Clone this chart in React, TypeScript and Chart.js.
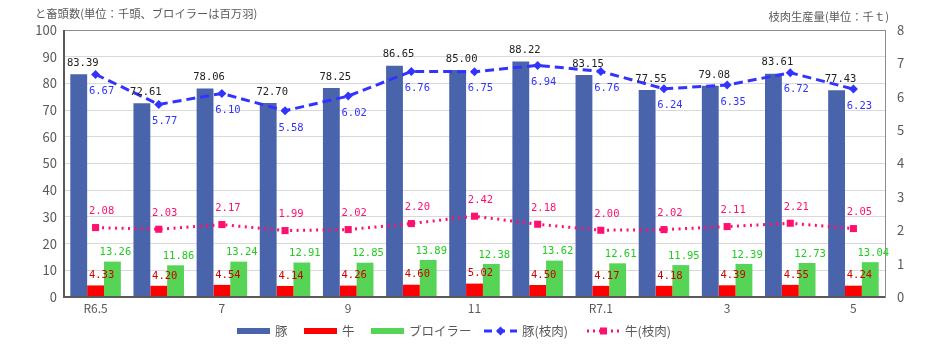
import React, { useEffect, useRef } from "react";
import { Chart, registerables } from "chart.js";

Chart.register(...registerables);

const months = ["R6.5", "6", "7", "8", "9", "10", "11", "12", "R7.1", "2", "3", "4", "5"];
const xTickLabels = ["R6.5", "", "7", "", "9", "", "11", "", "R7.1", "", "3", "", "5"];
const pigHead = [83.39, 72.61, 78.06, 72.7, 78.25, 86.65, 85.0, 88.22, 83.15, 77.55, 79.08, 83.61, 77.43];
const cattleHead = [4.33, 4.2, 4.54, 4.14, 4.26, 4.6, 5.02, 4.5, 4.17, 4.18, 4.39, 4.55, 4.24];
const broilerHead = [13.26, 11.86, 13.24, 12.91, 12.85, 13.89, 12.38, 13.62, 12.61, 11.95, 12.39, 12.73, 13.04];
const pigMeat = [6.67, 5.77, 6.1, 5.58, 6.02, 6.76, 6.75, 6.94, 6.76, 6.24, 6.35, 6.72, 6.23];
const cattleMeat = [2.08, 2.03, 2.17, 1.99, 2.02, 2.2, 2.42, 2.18, 2.0, 2.02, 2.11, 2.21, 2.05];
const leftTitle = "と畜頭数(単位：千頭、ブロイラーは百万羽)";
const rightTitle = "枝肉生産量(単位：千ｔ)";
const legendNames = ["豚", "牛", "ブロイラー", "豚(枝肉)", "牛(枝肉)"];

const PIG = "#4A64AC";
const RED = "#FF0000";
const GREEN = "#55D455";
const BLUE = "#3333FF";
const PINK = "#FF0F6E";
const TXT = "#595959";
const JP = '"Noto Sans CJK JP", sans-serif';
const NUM = '"DejaVu Sans Mono", monospace';

const labelCfg = [
  { color: "#222222", dx: 4, dy: -11 },
  { color: "#D00000", dx: 6, dy: -10 },
  { color: "#22CC22", dx: 3, dy: -9 },
  { color: BLUE, dx: 6, dy: 17 },
  { color: PINK, dx: 6, dy: -16 },
];

const legendX = [237, 304, 371, 484, 587];

const overlay = {
  id: "overlay",
  afterDatasetsDraw(chart: any) {
    const ctx = chart.ctx;
    const a = chart.chartArea;
    ctx.save();
    // frame
    ctx.strokeStyle = "#8c8c8c";
    ctx.lineWidth = 1;
    ctx.strokeRect(Math.round(a.left) + 0.5, Math.round(a.top) + 0.5, Math.round(a.right - a.left), Math.round(a.bottom - a.top));
    ctx.strokeStyle = "#595959";
    ctx.lineWidth = 2;
    ctx.beginPath();
    ctx.moveTo(a.left, a.top);
    ctx.lineTo(a.left, a.bottom);
    ctx.lineTo(a.right, a.bottom);
    ctx.stroke();

    // data labels
    ctx.font = `10.5px ${NUM}`;
    ctx.textAlign = "center";
    ctx.textBaseline = "middle";
    chart.data.datasets.forEach((ds: any, di: number) => {
      const meta = chart.getDatasetMeta(di);
      const cfg = labelCfg[di];
      ctx.fillStyle = cfg.color;
      meta.data.forEach((el: any, i: number) => {
        const v = ds.data[i] as number;
        ctx.fillText(v.toFixed(2), el.x + cfg.dx, el.y + cfg.dy);
      });
    });

    // titles
    ctx.fillStyle = TXT;
    ctx.font = `11.3px ${JP}`;
    ctx.textBaseline = "middle";
    ctx.textAlign = "left";
    ctx.fillText(leftTitle, 35, 14);
    ctx.textAlign = "right";
    ctx.fillText(rightTitle, 889, 17);

    // legend
    const y = 331;
    ctx.font = `12.5px ${JP}`;
    ctx.textAlign = "left";
    legendNames.forEach((name, i) => {
      const x = legendX[i];
      const w = 33;
      if (i < 3) {
        ctx.fillStyle = [PIG, RED, GREEN][i];
        ctx.fillRect(x, y - 3, w, 6);
      } else if (i === 3) {
        ctx.strokeStyle = BLUE;
        ctx.lineWidth = 3;
        ctx.setLineDash([8, 5]);
        ctx.beginPath();
        ctx.moveTo(x, y);
        ctx.lineTo(x + w, y);
        ctx.stroke();
        ctx.setLineDash([]);
        ctx.fillStyle = BLUE;
        ctx.beginPath();
        const cx = x + w / 2;
        ctx.moveTo(cx, y - 4.5);
        ctx.lineTo(cx + 4.5, y);
        ctx.lineTo(cx, y + 4.5);
        ctx.lineTo(cx - 4.5, y);
        ctx.closePath();
        ctx.fill();
      } else {
        ctx.strokeStyle = PINK;
        ctx.lineWidth = 3;
        ctx.setLineDash([2, 4]);
        ctx.beginPath();
        ctx.moveTo(x, y);
        ctx.lineTo(x + w, y);
        ctx.stroke();
        ctx.setLineDash([]);
        ctx.fillStyle = PINK;
        ctx.fillRect(x + w / 2 - 3.5, y - 3.5, 7, 7);
      }
      ctx.fillStyle = TXT;
      ctx.fillText(name, x + w + 5, y);
    });
    ctx.restore();
  },
};

export default function App() {
  const ref = useRef<HTMLCanvasElement | null>(null);
  useEffect(() => {
    document.body.style.margin = "0";
    const canvas = ref.current!;
    const chart = new Chart(canvas, {
      type: "bar",
      data: {
        labels: months,
        datasets: [
          { type: "bar", label: legendNames[0], data: pigHead, backgroundColor: PIG, yAxisID: "y", order: 2, categoryPercentage: 0.8, barPercentage: 1.0 } as any,
          { type: "bar", label: legendNames[1], data: cattleHead, backgroundColor: RED, yAxisID: "y", order: 2, categoryPercentage: 0.8, barPercentage: 1.0 } as any,
          { type: "bar", label: legendNames[2], data: broilerHead, backgroundColor: GREEN, yAxisID: "y", order: 2, categoryPercentage: 0.8, barPercentage: 1.0 } as any,
          {
            type: "line", label: legendNames[3], data: pigMeat, yAxisID: "y1", order: 1,
            borderColor: BLUE, backgroundColor: BLUE, borderWidth: 3, borderDash: [9, 5],
            pointStyle: "rectRot", pointRadius: 4.5, pointBorderWidth: 0, fill: false, tension: 0,
          } as any,
          {
            type: "line", label: legendNames[4], data: cattleMeat, yAxisID: "y1", order: 0,
            borderColor: PINK, backgroundColor: PINK, borderWidth: 3, borderDash: [2, 4.5],
            pointStyle: "rect", pointRadius: 5, pointBorderWidth: 0, fill: false, tension: 0,
          } as any,
        ],
      },
      options: {
        responsive: false,
        animation: false,
        layout: { padding: { top: 30, bottom: 31, left: 0, right: 0 } },
        plugins: { legend: { display: false }, tooltip: { enabled: false }, title: { display: false } },
        scales: {
          x: {
            grid: { display: false, drawTicks: false, tickLength: 0 },
            border: { display: false },
            ticks: {
              autoSkip: false, maxRotation: 0, color: TXT, padding: 4,
              font: { family: JP, size: 12 },
              callback: (_v: any, i: number) => xTickLabels[i],
            },
            afterFit: (s: any) => { s.height = 22; },
          },
          y: {
            position: "left", min: 0, max: 100,
            ticks: { stepSize: 10, color: TXT, padding: 7, font: { family: JP, size: 13 } },
            grid: { color: "#d9d9d9", drawTicks: false },
            border: { display: false },
            afterFit: (s: any) => { s.width = 64; },
          },
          y1: {
            position: "right", min: 0, max: 8,
            ticks: { stepSize: 1, color: TXT, padding: 12, font: { family: JP, size: 13 } },
            grid: { display: false, drawTicks: false },
            border: { display: false },
            afterFit: (s: any) => { s.width = 47; },
          },
        },
      } as any,
      plugins: [overlay],
    });
    return () => chart.destroy();
  }, []);
  return <canvas ref={ref} width={932} height={350} style={{ display: "block" }} />;
}
